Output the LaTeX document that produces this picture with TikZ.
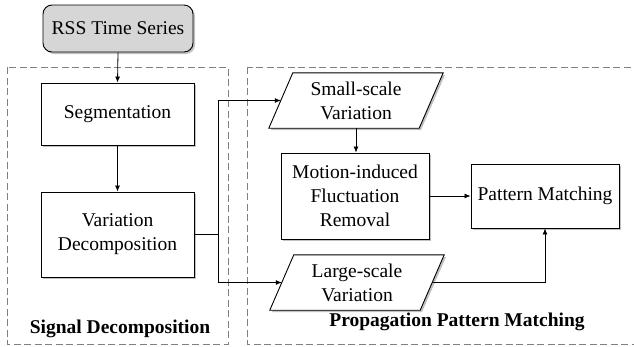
\documentclass[tikz,border=0pt]{standalone}
\usepackage{fontspec}
\setmainfont{LiberationSerif}[Extension=.ttf, UprightFont=*-Regular, BoldFont=*-Bold, ItalicFont=*-Italic, BoldItalicFont=*-BoldItalic]
\usetikzlibrary{arrows.meta,shadows,calc}
\begin{document}
\begin{tikzpicture}[x=1pt,y=-1pt,
  every node/.style={font=\rmfamily\fontsize{19.5}{24}\selectfont, align=center, inner sep=0pt},
  box/.style={draw=black, line width=0.9pt, fill=white,
    drop shadow={shadow xshift=2pt, shadow yshift=-2pt, fill=black!35, opacity=0.7}},
  startbox/.style={box, rounded corners=9pt, fill=black!16},
  paratext/.style={minimum width=150pt, minimum height=55pt},
  paraedge/.style={draw=black, line width=0.9pt, fill=white},
  parashadow/.style={fill=black!35, opacity=0.7},
  arr/.style={line width=0.8pt, -{Latex[length=6pt,width=5pt]}},
  link/.style={line width=0.8pt},
  group/.style={draw=black!50, line width=1pt, dash pattern=on 7pt off 3.5pt},
  grouplabel/.style={font=\rmfamily\fontsize{19.5}{24}\selectfont\bfseries}
]
\useasboundingbox (0,0) rectangle (634,346);

% group frames
\draw[group] (7,67) rectangle (228,344);
\draw[group] (247,67) rectangle (650,344);
\node[grouplabel] (lblA) at (120,329) {Signal Decomposition};
\node[grouplabel] (lblB) at (457,322) {Propagation Pattern Matching};

% nodes
\node[startbox, minimum width=150pt, minimum height=47pt] (rss) at (118,28.5) {RSS Time Series};
\node[box, minimum width=153pt, minimum height=62pt] (seg) at (117.5,114) {Segmentation};
\node[box, minimum width=153pt, minimum height=85pt] (vd) at (117.5,234.5) {Variation\\Decomposition};
\node[box, minimum width=148pt, minimum height=86pt] (motion) at (355,196) {Motion-induced\\Fluctuation\\Removal};
\node[box, minimum width=148pt, minimum height=64pt] (pattern) at (545,196) {Pattern Matching};

% parallelograms
\coordinate (sc) at (356,100.5);
\coordinate (lc) at (357,282.5);
\fill[parashadow] ($(sc)+(-75+12+2,-27.5+2)$) -- ($(sc)+(75+12+2,-27.5+2)$) -- ($(sc)+(75-12+2,27.5+2)$) -- ($(sc)+(-75-12+2,27.5+2)$) -- cycle;
\fill[parashadow] ($(lc)+(-75+12+2,-27.5+2)$) -- ($(lc)+(75+12+2,-27.5+2)$) -- ($(lc)+(75-12+2,27.5+2)$) -- ($(lc)+(-75-12+2,27.5+2)$) -- cycle;
\node[paratext] (small) at (sc) {};
\node[paratext] (large) at (lc) {};
\path[paraedge] ([xshift=12pt]small.north west) -- ([xshift=12pt]small.north east) -- ([xshift=-12pt]small.south east) -- ([xshift=-12pt]small.south west) -- cycle;
\path[paraedge] ([xshift=12pt]large.north west) -- ([xshift=12pt]large.north east) -- ([xshift=-12pt]large.south east) -- ([xshift=-12pt]large.south west) -- cycle;
\node[paratext] (smalltext) at (sc) {Small-scale\\Variation};
\node[paratext] (largetext) at (lc) {Large-scale\\Variation};

% connectors
\coordinate (br) at (218,234.5);
\draw[arr] (rss.south) -- (seg.north);
\draw[arr] (seg.south) -- (vd.north);
\draw[link] (vd.east) -- (br);
\draw[arr] (br) |- (small.west);
\draw[arr] (br) |- (large.west);
\draw[arr] (small.south) -- (small.south |- motion.north);
\draw[arr] (motion.east) -- (pattern.west);
\draw[arr] (large.east) -| (pattern.south);
\end{tikzpicture}
\end{document}
